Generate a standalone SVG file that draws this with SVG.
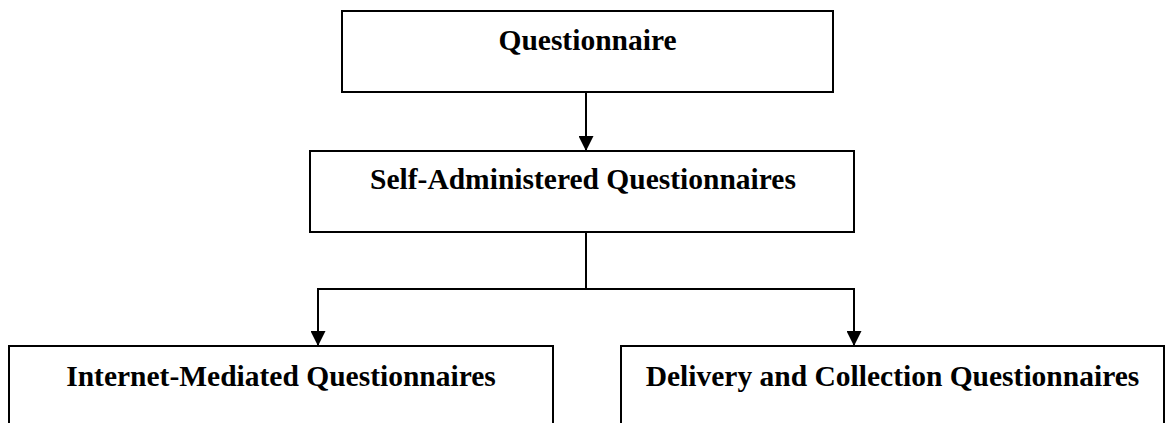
<svg xmlns="http://www.w3.org/2000/svg" width="1165" height="423" viewBox="0 0 1165 423">
  <style>
    .box { fill: #ffffff; stroke: #000000; stroke-width: 2; }
    .label { font-family: "Liberation Serif", "Times New Roman", serif; font-weight: bold; font-size: 29.5px; fill: #000000; text-anchor: middle; }
    .link { fill: none; stroke: #000000; stroke-width: 2; }
    .head { fill: #000000; stroke: none; }
  </style>
  <defs>
    <!-- solid triangular arrowhead, tip at the path end -->
    <marker id="arrow" markerUnits="userSpaceOnUse" markerWidth="15" markerHeight="15" viewBox="0 0 15 15" refX="15" refY="7.5" orient="auto">
      <path class="head" d="M0,0 L15,7.5 L0,15 Z"/>
    </marker>
  </defs>

  <rect width="1165" height="423" fill="#ffffff"/>

  <g id="connectors">
    <path class="link" d="M586,92 L586,151" marker-end="url(#arrow)"/>
    <path class="link" d="M586,233 L586,289 L318,289 L318,346" marker-end="url(#arrow)"/>
    <path class="link" d="M586,289 L854,289 L854,346" marker-end="url(#arrow)"/>
  </g>

  <g id="node-questionnaire">
    <rect class="box" x="342" y="11" width="491" height="81"/>
    <text class="label" x="587.5" y="50">Questionnaire</text>
  </g>

  <g id="node-self-administered">
    <rect class="box" x="310" y="151" width="544" height="81"/>
    <text class="label" x="583" y="189">Self-Administered Questionnaires</text>
  </g>

  <g id="node-internet-mediated">
    <rect class="box" x="9" y="346" width="544" height="90"/>
    <text class="label" x="281" y="386">Internet-Mediated Questionnaires</text>
  </g>

  <g id="node-delivery-collection">
    <rect class="box" x="621" y="346" width="543" height="90"/>
    <text class="label" x="892.5" y="386">Delivery and Collection Questionnaires</text>
  </g>
</svg>
